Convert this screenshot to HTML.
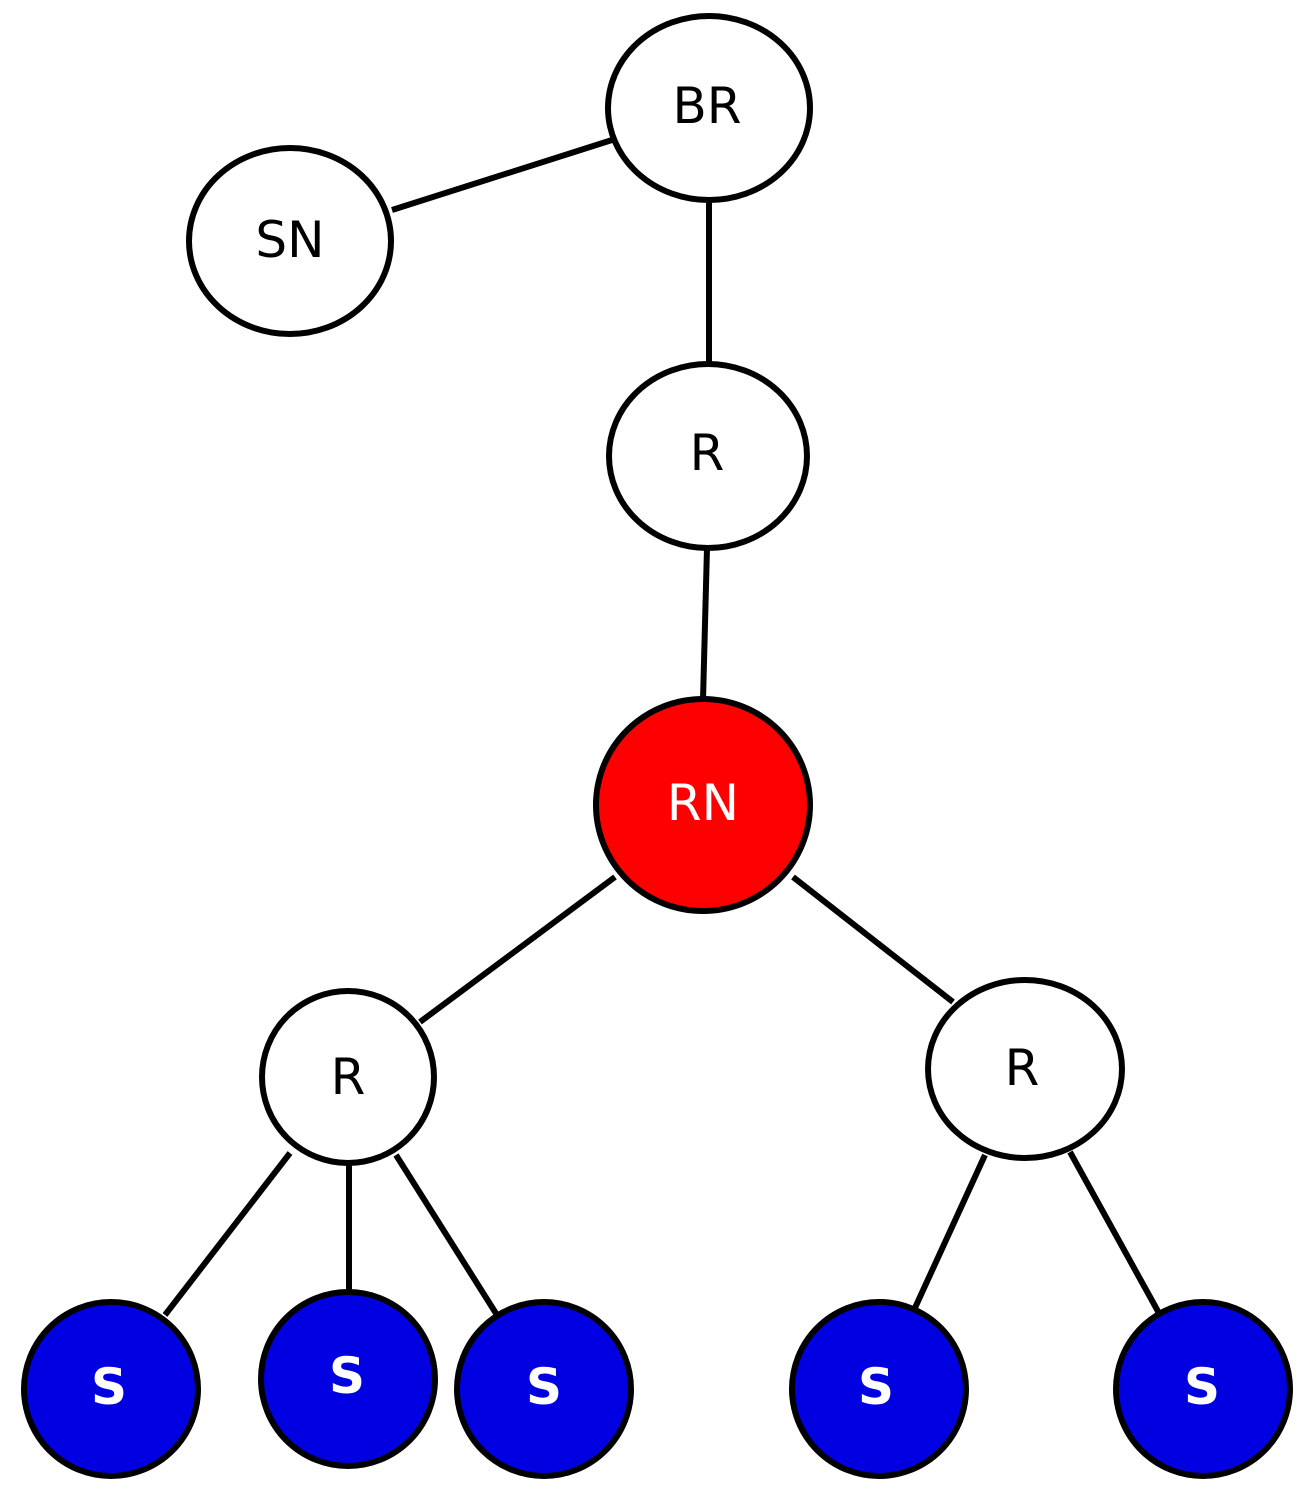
<!DOCTYPE html>
<html><head><style>html,body{margin:0;padding:0;background:#fff}svg{display:block}</style></head>
<body>
<svg width="1309" height="1494" viewBox="0 0 1309 1494" xmlns="http://www.w3.org/2000/svg">
<g stroke="#000" stroke-width="6" fill="none">
<line x1="392" y1="210" x2="612" y2="140"/>
<line x1="709" y1="200" x2="709" y2="365"/>
<line x1="707" y1="548" x2="703" y2="700"/>
<line x1="615" y1="877" x2="420" y2="1022"/>
<line x1="793" y1="877" x2="953" y2="1002"/>
<line x1="290" y1="1153" x2="165" y2="1315"/>
<line x1="349" y1="1162" x2="349" y2="1293"/>
<line x1="396" y1="1155" x2="497" y2="1315"/>
<line x1="985" y1="1155" x2="914" y2="1310"/>
<line x1="1070" y1="1152" x2="1160" y2="1315"/>
</g>
<g stroke="#000" stroke-width="6">
<ellipse cx="709" cy="108" rx="101" ry="92" fill="#fff"/>
<ellipse cx="290" cy="241" rx="101" ry="93" fill="#fff"/>
<ellipse cx="708" cy="456" rx="99" ry="92" fill="#fff"/>
<ellipse cx="703" cy="805" rx="107" ry="106" fill="#f00"/>
<ellipse cx="348" cy="1077" rx="86" ry="86" fill="#fff"/>
<ellipse cx="1025" cy="1069" rx="97" ry="89" fill="#fff"/>
<circle cx="111" cy="1389" r="87" fill="#0000e0"/>
<circle cx="348" cy="1379" r="87" fill="#0000e0"/>
<circle cx="544" cy="1389" r="87" fill="#0000e0"/>
<circle cx="879" cy="1389" r="87" fill="#0000e0"/>
<circle cx="1203" cy="1389" r="87" fill="#0000e0"/>
</g>
<g font-family="DejaVu Sans, Liberation Sans, sans-serif" font-size="50" text-anchor="middle" dominant-baseline="central">
<text x="707" y="106">BR</text>
<text x="290" y="240">SN</text>
<text x="707" y="453">R</text>
<text x="703" y="803" fill="#fff">RN</text>
<text x="348" y="1077">R</text>
<text x="1022" y="1068">R</text>
<g fill="#fff" font-weight="bold">
<text x="109" y="1387">S</text>
<text x="347" y="1376">S</text>
<text x="544" y="1387">S</text>
<text x="876" y="1387">S</text>
<text x="1202" y="1387">S</text>
</g>
</g>
</svg>
</body></html>
